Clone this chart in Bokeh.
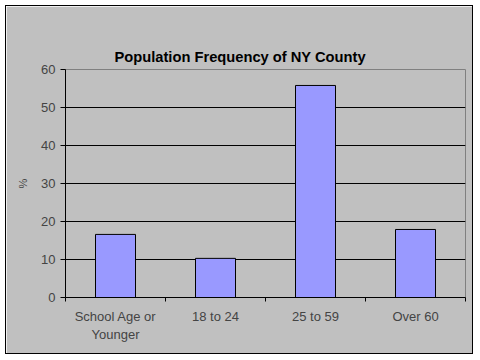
from bokeh.plotting import figure
from bokeh.models import FactorRange, Range1d, LinearAxis, FixedTicker, CategoricalAxis, ColumnDataSource, Title
from bokeh.embed import file_html
from bokeh.resources import INLINE

categories = ["School Age or\nYounger", "18 to 24", "25 to 59", "Over 60"]
values = [16.6, 10.3, 55.8, 17.9]
y_ticks = [0, 10, 20, 30, 40, 50, 60]
title_text = "Population Frequency of NY County"

GRAY = "#C0C0C0"
FONT = "Liberation Sans"

src = ColumnDataSource(data=dict(cat=categories, val=values))

p = figure(width=468, height=349, output_backend="svg", toolbar_location=None,
           x_range=FactorRange(*categories, range_padding=0), y_range=Range1d(0, 60),
           x_axis_location=None,
           min_border_left=59, min_border_right=9, min_border_top=63, min_border_bottom=58)
p.styles = {"border": "1px solid black", "margin-left": "5px", "margin-top": "5px"}
p.background_fill_color = GRAY
p.border_fill_color = GRAY
p.outline_line_color = "#808080"
p.outline_line_width = 1

p.vbar(x="cat", top="val", width=0.4, source=src, fill_color="#9999FF",
       line_color="black", line_width=1)

# title: the real title outermost, then an invisible spacer next to the frame
title = Title(text=title_text, align="left", offset=49, standoff=10,
              text_font=FONT, text_font_size="14.7px", text_font_style="bold",
              text_color="black")
p.add_layout(title, "above")
spacer = Title(text=".", text_font=FONT, text_font_size="14.7px", text_alpha=0, standoff=10)
p.add_layout(spacer, "above")

# grid (inner lines only; top edge is the gray plot-area border)
p.xgrid.grid_line_color = None
p.ygrid.grid_line_color = "black"
p.ygrid.grid_line_width = 1
p.ygrid.ticker = FixedTicker(ticks=y_ticks[1:-1])

# y axis
ya = p.yaxis[0]
ya.ticker = FixedTicker(ticks=y_ticks)
ya.axis_label = "%"
ya.axis_label_text_font = FONT
ya.axis_label_text_font_size = "11px"
ya.axis_label_text_font_style = "normal"
ya.axis_label_standoff = 9
ya.major_label_text_font = FONT
ya.major_label_text_font_size = "13px"
ya.major_label_standoff = 5
ya.major_tick_out = 5
ya.major_tick_in = 0
ya.minor_tick_line_color = None
ya.axis_line_color = "black"
ya.major_tick_line_color = "black"

# x axis: tick marks at category boundaries (synthetic coordinates 0..N)
tick_axis = LinearAxis(ticker=FixedTicker(ticks=list(range(len(categories) + 1))),
                       major_tick_out=4, major_tick_in=0, minor_tick_line_color=None,
                       major_label_text_font_size="0px", major_label_standoff=0,
                       axis_line_color="black", major_tick_line_color="black")
tick_axis.major_label_overrides = {i: "" for i in range(len(categories) + 1)}
p.add_layout(tick_axis, "below")

cat_axis = CategoricalAxis(axis_line_color=None, major_tick_line_color=None,
                           major_tick_out=0, major_tick_in=0,
                           major_label_text_font=FONT, major_label_text_font_size="13px",
                           major_label_standoff=7)
p.add_layout(cat_axis, "below")

open("out.html", "w").write(file_html(p, INLINE))
